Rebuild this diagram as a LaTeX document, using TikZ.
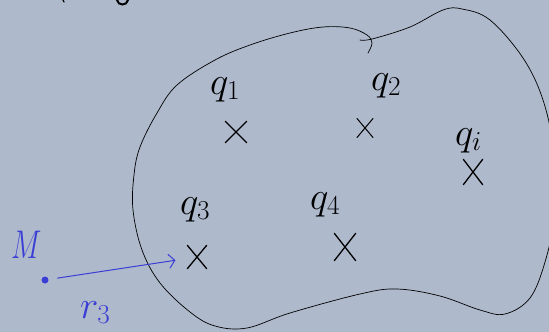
\RequirePackage{fix-cm}
\documentclass[tikz,border=0pt]{standalone}
\usepackage{graphicx}
\usetikzlibrary{arrows.meta,shapes.misc}
\definecolor{paper}{RGB}{174,185,204}
\definecolor{pen}{RGB}{58,62,212}
\begin{document}
\begin{tikzpicture}[x=1pt,y=-1pt,line cap=round,
  lbl/.style={font=\fontsize{39}{43}\selectfont,inner sep=0pt,anchor=base west},
  xmark/.style={cross out,draw,line width=1.3pt,inner sep=0pt}]
\fill[paper] (0,0) rectangle (549,332); \useasboundingbox (0,0) rectangle (549,332);
\clip (0,0) rectangle (549,332);
% bits of the line above, cut by the page edge
\draw[line width=1.2pt] (63,0)--(64,2); \draw[line width=2pt] (117,0) .. controls (118,6) and (127,6) .. (128,0);
% the closed surface
\draw[line width=0.7pt] plot[smooth,tension=0.6] coordinates {(360,40) (372,39) (410,27) (443,10) (462,9) (490,20) (523,58) (543,100) (553,150) (553,220) (545,262) (530,298) (505,314) (480,310) (440,296) (397,289) (360,294) (290,313) (247,328) (215,326) (190,312) (160,283) (142,250) (133,210) (134,175) (140,147) (157,113) (177,85) (215,60) (250,45) (290,33) (323,27) (350,28) (367,35) (372,43) (368,53)};
\node[lbl] (q1) at (210,94) {$q_1$}; \node[xmark,minimum width=20pt,minimum height=20pt] (c1) at (236,132) {};
\node[lbl] (q2) at (371,90) {$q_2$}; \node[xmark,minimum width=15pt,minimum height=18pt,line width=1pt] (c2) at (365,128) {};
\node[lbl] (q3) at (180,214) {$q_3$}; \node[xmark,minimum width=18pt,minimum height=22pt] (c3) at (197,257) {};
\node[lbl] (q4) at (310,209) {$q_4$}; \node[xmark,minimum width=20pt,minimum height=26pt] (c4) at (345,247) {};
\node[lbl] (qi) at (455,145) {$q_i$}; \node[xmark,minimum width=18pt,minimum height=24pt] (ci) at (473,172) {};
\node[circle,fill=pen,inner sep=0pt,minimum size=7pt] (M) at (45,280) {};
\node[lbl,text=pen,font=\fontsize{40}{44}\selectfont] (Mlbl) at (11,258) {\scalebox{0.72}[1]{$M$}};
\draw[pen,line width=1pt,shorten <=9pt,shorten >=12pt,-{Straight Barb[length=6pt,width=14pt]}] (M) -- (c3);
\node[lbl,text=pen] (r3) at (80,318) {$r_3$};
\end{tikzpicture}
\end{document}
